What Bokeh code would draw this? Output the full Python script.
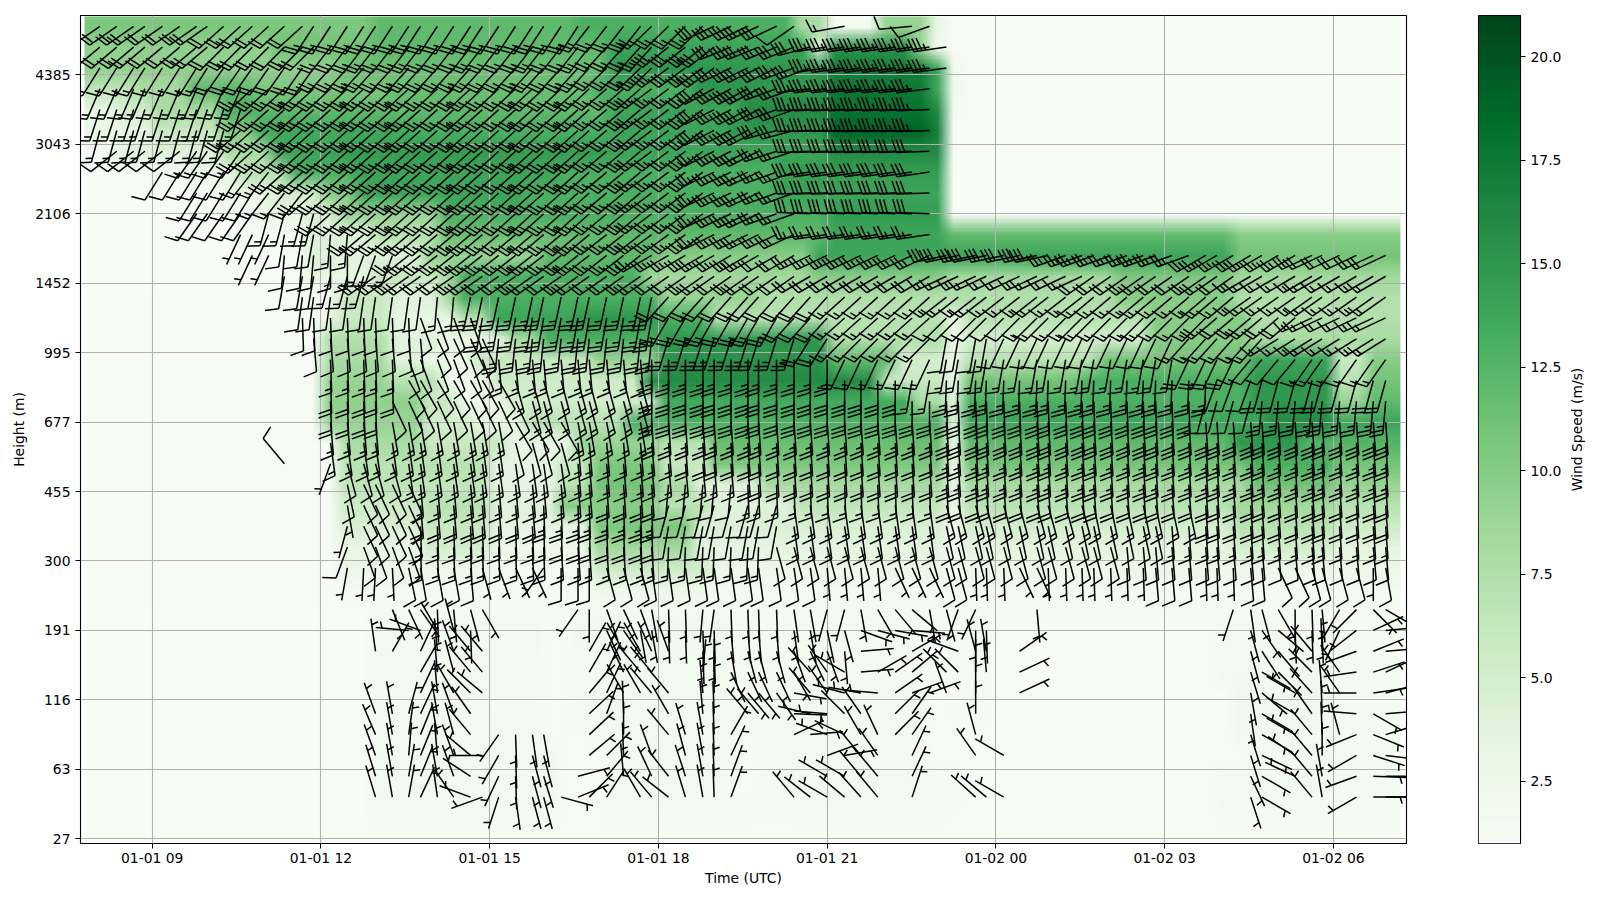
import base64
import struct
import zlib

import numpy as np
from bokeh.embed import file_html
from bokeh.layouts import row
from bokeh.models import FixedTicker, LinearColorMapper, Range1d
from bokeh.palettes import Greens256
from bokeh.plotting import figure
from bokeh.resources import INLINE

# ---------- axes ----------
TIME_TICKS = [9, 12, 15, 18, 21, 24, 27, 30]
TIME_LABELS = ["01-01 09", "01-01 12", "01-01 15", "01-01 18", "01-01 21", "01-02 00", "01-02 03", "01-02 06"]
LEVEL_TICKS = [0, 10, 20, 30, 40, 50, 60, 70, 80, 90, 100, 110]
HEIGHT_LABELS = ["27", "63", "116", "191", "300", "455", "677", "995", "1452", "2106", "3043", "4385"]
CBAR_TICKS = [2.5, 5.0, 7.5, 10.0, 12.5, 15.0, 17.5, 20.0]
CBAR_LABELS = ["2.5", "5.0", "7.5", "10.0", "12.5", "15.0", "17.5", "20.0"]

# ---------- barb times (hours after 01-01 00 UTC), one per barb column ----------
BARB_TIME = [8.07, 8.37, 8.67, 8.87, 9.18, 9.49, 9.79, 9.98, 10.27, 10.57, 10.78, 11.07, 11.35, 11.67, 11.87, 12.17,
             12.47, 12.76, 12.97, 13.27, 13.56, 13.77, 14.07, 14.36, 14.66, 14.87, 15.16, 15.46, 15.76, 15.96, 16.27,
             16.57, 16.77, 17.08, 17.38, 17.68, 17.88, 18.18, 18.48, 18.79, 18.99, 19.29, 19.59, 19.78, 20.1, 20.41,
             20.7, 21.0, 21.31, 21.6, 21.9, 22.21, 22.51, 22.82, 23.12, 23.33, 23.64, 23.83, 24.14, 24.42, 24.73, 24.93,
             25.24, 25.53, 25.74, 26.04, 26.33, 26.62, 26.84, 27.13, 27.43, 27.73, 27.93, 28.22, 28.53, 28.73, 29.02,
             29.32, 29.62, 29.8, 30.11, 30.41, 30.71, 30.93]

# ---------- barbs of the upper levels: (number of columns, direction deg, knots) ----------
B117 = [(8,235,20),(6,228,20),(18,213,25),(4,218,25),(4,226,25),(5,245,30),(1,235,10),(2,0,0),(1,260,15),(3,0,0),(1,265,10),(1,250,10)]
B114 = [(8,230,20),(7,225,20),(18,218,25),(4,222,25),(4,232,30),(5,248,30),(1,255,30),(8,262,35)]
B111 = [(8,212,15),(7,215,20),(18,222,25),(4,226,25),(4,234,30),(4,244,30),(2,250,30),(8,262,35)]
B108 = [(10,203,15),(23,227,25),(3,229,25),(4,233,25),(4,242,30),(2,250,30),(8,263,35)]
B105 = [(10,198,15),(23,228,25),(3,230,25),(4,233,25),(4,243,30),(2,250,30),(8,268,35)]
B102 = [(9,195,15),(24,228,25),(3,230,25),(4,233,25),(4,243,30),(2,255,30),(8,268,35)]
B099 = [(1,0,0),(5,232,10),(4,215,15),(23,228,25),(3,230,25),(4,233,25),(4,243,25),(2,252,25),(8,268,30)]
B096 = [(4,0,0),(6,212,10),(2,218,15),(21,228,25),(3,230,25),(4,233,25),(4,245,25),(2,250,25),(8,262,30)]
B093 = [(6,0,0),(5,212,10),(3,218,15),(19,228,25),(3,230,25),(4,233,25),(4,245,25),(2,250,25),(8,268,30)]
B090 = [(6,0,0),(5,215,10),(4,195,15),(18,228,25),(3,230,25),(4,233,25),(4,245,25),(2,250,25),(8,272,30)]
B087 = [(9,0,0),(3,205,5),(3,190,10),(2,185,15),(16,230,25),(3,232,25),(4,234,25),(4,244,25),(2,245,25),(8,262,25)]
B084 = [(10,0,0),(2,205,5),(3,185,10),(2,180,15),(3,200,15),(16,232,25),(8,240,25),(2,240,20),(8,245,25),
        (8,258,30),(9,250,25),(7,240,25),(6,245,20)]
B081 = [(12,0,0),(3,190,10),(3,195,15),(18,235,20),(8,235,20),(2,235,20),(8,240,20),(10,245,15),(10,235,20),(10,240,15)]
B078 = [(13,0,0),(9,188,10),(2,185,15),(13,192,25),(11,222,20),(6,228,15),(10,232,15),(10,230,15),(10,235,15)]
B075 = [(13,0,0),(8,178,10),(4,160,10),(12,190,25),(8,210,25),(3,222,20),(6,228,15),(6,225,10),(6,225,15),(6,225,15),(6,230,20),(6,245,15)]
B072 = [(14,0,0),(8,175,10),(4,155,10),(11,186,25),(9,197,25),(2,212,20),(6,225,15),(4,190,10),(12,205,10),(6,222,15),(8,238,15)]
B069 = [(15,0,0),(5,178,15),(6,160,10),(10,175,15),(12,180,25),(6,205,15),(16,190,15),(4,205,20),(4,220,10),(6,215,15)]
B066 = [(15,0,0),(5,178,20),(7,150,10),(9,165,15),(16,180,30),(2,190,15),(18,182,25),(3,200,10),(9,195,20)]
B063 = [(15,0,0),(4,178,20),(9,155,10),(8,165,15),(18,180,30),(17,178,30),(4,195,10),(9,185,25)]
B060 = [(15,0,0),(4,175,15),(8,170,15),(4,150,10),(5,170,15),(18,176,25),(30,176,30)]
B057 = [(15,0,0),(12,172,15),(4,165,10),(7,175,15),(16,176,20),(30,176,25)]
B054 = [(12,0,0),(1,320,10),(2,0,0),(1,200,5),(4,165,10),(11,172,15),(11,175,15),(12,176,20),(30,176,25)]
B051 = [(16,0,0),(1,168,10),(4,155,10),(12,175,15),(4,176,20),(5,185,10),(12,178,15),(30,176,20)]
B048 = [(16,0,0),(1,170,5),(4,155,10),(8,175,20),(8,178,25),(8,195,10),(9,172,15),(10,165,15),(7,168,15),(13,176,20)]
B045 = [(16,0,0),(1,195,5),(4,155,10),(9,178,15),(7,178,20),(8,190,10),(9,172,15),(15,168,10),(15,176,15)]
B042 = [(16,0,0),(1,200,10),(4,160,10),(9,178,15),(7,176,15),(7,182,15),(10,165,10),(12,165,10),(18,175,10)]
B039 = [(16,0,0),(1,190,5),(2,183,5),(1,177,5),(1,168,10),(3,170,10),(1,175,10),(1,165,5),(1,160,5),(2,155,5),(1,215,5),
        (3,180,10),(3,165,10),(11,172,10),(4,175,5),(3,155,5),(2,165,10),(3,178,5),(2,155,5),(7,178,5),(3,175,10),
        (3,178,5),(2,175,10),(2,155,10),(2,165,10),(2,165,10),(1,180,5),(1,170,10)]

# ---------- barbs of the lowest levels: (column number, direction deg), all about 5 kt ----------
L033 = [(20,158),(21,155),(22,145),(23,178),(24,175),(25,165),(26,150),(32,215),(33,180),(34,160),(35,155),(36,160),(37,170),
        (38,178),(39,178),(40,185),(41,188),(42,178),(43,178),(44,178),(45,178),(46,172),(47,170),(48,195),(49,195),(50,170),
        (51,150),(52,140),(53,130),(54,170),(55,165),(56,200),(57,205),(61,175),(74,198),(75,172),(76,165),(77,150),(78,180),
        (79,178),(80,175),(81,210),(82,225),(83,135),(84,120)]
L030 = [(21,275),(22,290),(23,330),(24,345),(25,178),(34,155),(35,145),(36,170),(37,170),(38,178),(39,178),(40,178),(41,178),
        (42,175),(43,175),(44,175),(45,175),(46,172),(47,170),(48,168),(49,165),(50,110),(51,105),(52,100),(53,95),(57,180),
        (58,178),(75,165),(76,145),(77,130),(78,178),(79,178),(80,178),(81,205),(82,232),(83,65),(84,85)]
L027 = [(19,352),(20,30),(22,25),(23,355),(24,340),(25,320),(26,320),(33,30),(34,25),(35,330),(36,330),(37,335),(38,340),
        (40,178),(41,178),(42,170),(43,165),(44,165),(45,165),(46,160),(47,155),(48,160),(49,175),(50,85),(53,60),(56,290),
        (57,345),(58,350),(60,55),(75,165),(76,147),(77,140),(79,320),(80,358),(82,250),(83,68),(84,85)]
L024 = [(22,30),(23,355),(24,345),(25,320),(26,320),(33,30),(34,25),(35,335),(36,320),(37,320),(40,5),(41,0),(42,155),(43,155),
        (44,155),(45,155),(46,150),(47,318),(48,325),(49,300),(50,85),(51,60),(52,55),(53,50),(55,315),(56,315),(57,0),(58,355),
        (60,65),(75,163),(76,120),(77,135),(79,315),(81,325),(82,262),(83,72),(84,65)]
L021 = [(22,25),(23,355),(24,330),(25,315),(26,310),(33,40),(34,25),(35,330),(36,330),(37,320),(38,320),(40,355),(41,0),(43,140),
        (44,140),(45,145),(46,100),(47,320),(48,325),(49,285),(50,280),(51,275),(52,55),(53,70),(54,70),(55,340),(57,0),(60,65),
        (75,170),(76,130),(78,300),(79,318),(80,355),(81,325),(82,270),(83,82),(84,75)]
L018 = [(19,340),(20,350),(21,15),(22,25),(23,350),(24,340),(25,325),(33,47),(34,20),(35,358),(38,330),(40,355),(41,358),(43,320),
        (44,320),(46,92),(47,283),(48,275),(49,315),(50,325),(52,45),(53,35),(57,0),(75,172),(76,120),(78,300),(79,325),(80,358),
        (82,275),(83,120),(84,85)]
L015 = [(19,337),(20,350),(21,8),(22,22),(23,350),(24,345),(25,320),(27,215),(28,178),(29,172),(30,170),(33,47),(35,0),(38,320),
        (39,343),(40,350),(41,358),(42,30),(46,65),(47,85),(48,290),(49,295),(50,330),(51,335),(52,45),(53,35),(57,345),(75,163),
        (76,120),(78,300),(79,320),(80,358),(81,345),(82,248),(83,112),(84,73)]
L012 = [(19,340),(20,350),(21,5),(22,22),(23,355),(24,340),(25,310),(26,270),(27,210),(28,178),(29,165),(30,165),(33,50),(34,45),
        (35,358),(37,340),(39,345),(40,350),(41,358),(42,25),(48,70),(49,80),(50,320),(51,325),(53,25),(57,325),(59,300),(75,163),
        (76,115),(78,305),(79,320),(80,0),(82,240),(83,108),(84,97)]
L009 = [(19,343),(20,350),(21,10),(22,22),(23,350),(24,340),(25,303),(27,205),(28,178),(29,165),(30,163),(32,75),(34,40),(35,355),
        (37,335),(38,322),(39,342),(40,350),(41,358),(42,20),(48,300),(49,300),(50,320),(51,320),(53,25),(75,155),(76,120),(78,295),
        (79,320),(80,350),(82,250),(83,92),(84,90)]
L006 = [(19,343),(20,350),(21,10),(22,25),(23,352),(24,325),(25,290),(26,250),(27,198),(28,172),(29,165),(30,165),(31,105),(32,68),
        (33,45),(34,33),(36,330),(37,320),(38,308),(39,343),(40,350),(41,358),(42,20),(46,320),(47,308),(48,300),(49,310),(50,318),
        (51,320),(53,18),(57,312),(58,310),(59,300),(75,162),(76,120),(79,320),(80,350),(82,240),(83,90),(84,90)]

UPPER_BARBS = {117: B117, 114: B114, 111: B111, 108: B108, 105: B105, 102: B102, 99: B099, 96: B096, 93: B093, 90: B090,
               87: B087, 84: B084, 81: B081, 78: B078, 75: B075, 72: B072, 69: B069, 66: B066, 63: B063, 60: B060,
               57: B057, 54: B054, 51: B051, 48: B048, 45: B045, 42: B042, 39: B039}
LOW_BARBS = {33: L033, 30: L030, 27: L027, 24: L024, 21: L021, 18: L018, 15: L015, 12: L012, 9: L009, 6: L006}

# ---------- wind speed (m/s), 78 columns per level, as (number of columns, value) ----------
H117 = [(17,10.5),(12,12),(13,13),(2,8),(3,1.5),(3,9),(1,3)]
H114 = [(11,9.5),(6,11),(14,12),(12,14),(1,4),(5,15.5),(1,9),(1,2)]
H111 = [(15,9.5),(16,11.5),(13,15),(6,17),(1,14),(1,2)]
H108 = [(3,6.5),(3,8),(4,12),(8,10.5),(12,11.5),(6,13),(8,15),(6,17.5),(1,14),(1,2)]
H105 = [(2,3),(2,5),(4,8),(2,13),(10,12),(11,12),(8,14),(5,16),(6,18),(1,16),(1,1.5)]
H102 = [(4,3),(4,6),(2,10),(10,13.5),(11,13),(7,14),(6,15),(6,19),(1,17)]
H099 = [(2,1.5),(6,4),(3,8),(4,14),(16,14.5),(13,14),(7,16)]
H096 = [(6,1.2),(3,3),(3,7),(4,13),(12,14),(13,13),(10,14.5)]
H093 = [(8,1),(3,3),(3,5),(2,10),(10,14),(15,13),(10,14)]
H090 = [(10,1),(3,3),(2,4.5),(6,9),(23,13),(7,14.5)]
H087 = [(12,1),(1,2),(4,4),(4,7),(8,11.5),(15,12),(7,14),(17,12),(10,10)]
H084 = [(13,1),(7,4),(7,9),(7,12),(9,10),(8,14),(17,14),(10,11)]
H081 = [(13,1),(4,3),(4,6),(1,8),(11,13),(10,8.5),(8,10),(10,8.5),(7,10.5),(10,8.5)]
H078 = [(14,1),(1,2),(3,6),(3,4),(1,8),(12,13),(6,9),(11,7.5),(10,7.5),(7,10),(10,7.5)]
H075 = [(14,1.2),(1,3),(3,6),(4,3),(2,7),(5,14),(5,15),(3,13),(14,7),(1,3),(11,7),(6,10),(9,7.5)]
H072 = [(14,1.2),(4,7.5),(3,4),(4,3),(2,8),(7,13),(10,15),(7,7.5),(1,3),(11,5),(6,10),(9,8)]
H069 = [(14,1.2),(4,8),(2,4),(3,2.5),(7,6),(4,9),(10,15.5),(4,12),(3,5),(1,3),(8,7),(9,11),(5,14),(2,6),(2,10)]
H066 = [(14,1.2),(4,9),(3,7),(3,2),(9,5.5),(14,16),(4,6),(1,3),(7,11),(10,13),(5,15),(2,7),(2,11)]
H063 = [(14,1.2),(6,9.5),(2,6),(3,2.5),(9,5),(15,13.5),(2,8),(1,4),(17,13),(5,15),(2,9),(2,12)]
H060 = [(14,1.2),(6,9),(3,5),(3,3),(6,7),(19,13),(1,4),(18,14),(4,16),(4,14)]
H057 = [(15,1.2),(5,8),(5,6),(4,3),(5,9),(3,7),(14,11.5),(1,3),(16,12),(4,15),(6,12.5)]
H054 = [(15,1.2),(9,7),(4,3.5),(2,6),(4,10.5),(3,6),(14,10.5),(1,3),(17,11),(5,13),(4,11)]
H051 = [(15,1.2),(9,6.5),(4,3.5),(2,7),(4,11),(2,8),(4,4),(11,8),(1,3),(17,8),(5,11),(4,9)]
H048 = [(15,1.2),(5,5.5),(4,7),(4,4),(6,10),(3,7),(5,4),(9,6.5),(1,3),(16,7),(6,8.5),(4,7)]
H045 = [(15,1.2),(5,4.5),(4,6),(6,3.5),(6,10.5),(15,4.5),(1,2),(16,5),(6,7),(4,5.5)]
H042 = [(15,1.2),(5,3),(4,5),(6,2.5),(6,8.5),(15,3.5),(1,1.5),(16,3.5),(6,5),(4,3.5)]
H039 = [(15,1.2),(9,2.5),(6,1.8),(7,5.5),(14,2.5),(1,1.5),(26,2.5)]
H036 = [(15,1.1),(9,1.5),(6,1.3),(7,2.5),(14,1.6),(27,1.6)]
H033 = [(17,1),(34,1.4),(27,1.3)]
H030 = [(17,1),(10,1.8),(2,1.1),(9,2),(12,1.6),(1,1),(3,1.4),(13,1),(8,1.6),(3,1.2)]
H027 = [(17,1),(10,1.7),(2,1.1),(9,1.9),(12,1.6),(1,1),(3,1.3),(13,1),(8,1.7),(3,1.3)]
H024 = [(17,1),(10,1.7),(2,1.1),(9,1.8),(12,1.5),(1,1),(3,1.3),(13,1),(7,1.8),(4,1.5)]
H021 = [(17,1),(10,1.6),(2,1.1),(9,1.8),(3,1.3),(9,1.7),(1,1),(3,1.3),(14,1),(6,2),(4,1.5)]
H018 = [(17,1),(10,1.6),(2,1.1),(9,1.8),(3,1.3),(9,1.7),(1,1),(3,1.3),(14,1),(6,2),(4,1.5)]
H015 = [(17,1),(10,1.7),(3,1.1),(7,1.8),(3,1.2),(9,1.7),(1,1),(18,1),(6,1.9),(4,1.5)]
H012 = [(17,1),(11,1.8),(3,1.1),(7,1.8),(3,1.2),(9,1.7),(1,1),(18,1),(6,1.9),(4,1.5)]
H009 = [(17,1),(11,1.9),(3,1.2),(7,1.9),(2,1.1),(10,1.8),(2,1.5),(15,1),(6,1.8),(5,1.5)]
H006 = [(17,1),(11,1.9),(3,1.2),(7,1.9),(2,1.1),(10,1.8),(2,1.5),(15,1),(6,1.8),(5,1.5)]
H003 = [(17,1),(11,1.6),(3,1.1),(8,1.5),(3,1.1),(9,1.4),(1,1),(15,1),(6,1.3),(5,1.3)]
H000 = [(78,1)]
SPEED_ROWS = [H000, H003, H006, H009, H012, H015, H018, H021, H024, H027, H030, H033, H036, H039, H042, H045, H048, H051,
              H054, H057, H060, H063, H066, H069, H072, H075, H078, H081, H084, H087, H090, H093, H096, H099, H102, H105,
              H108, H111, H114, H117]

# ---------- frame and scales ----------
FRAME_W, FRAME_H = 1326, 828
X0, X1 = 7.725, 31.30
Y0, Y1 = -0.68, 118.55
PX_PER_HOUR = FRAME_W / (X1 - X0)
PX_PER_LEVEL = FRAME_H / (Y1 - Y0)
HEAT_X, HEAT_W = 7.796, 23.396
HEAT_Y, HEAT_H = -1.5, 120.0
STAFF = 33.0
FONT = "DejaVu Sans"
PX = "13.9px"
V_LOW, V_HIGH = 1.0, 21.0

palette = list(reversed(Greens256))
mapper = LinearColorMapper(palette=palette, low=V_LOW, high=V_HIGH)


def expand(runs):
    out = []
    for item in runs:
        out.extend([item[1:] if len(item) > 2 else item[1]] * item[0])
    return out


speed = np.ones((len(SPEED_ROWS), 78))
for i, runs in enumerate(SPEED_ROWS):
    vals = expand(runs)[:78]
    speed[i, :len(vals)] = vals

# the table as a small PNG, one pixel per value; the browser draws it scaled
rgb_table = np.array([[int(c[i:i + 2], 16) for i in (1, 3, 5)] for c in palette], dtype=np.uint8)
index = np.clip(((speed - V_LOW) / (V_HIGH - V_LOW) * 255).astype(int), 0, 255)
pixels = rgb_table[index[::-1]]


def chunk(tag, data):
    return struct.pack(">I", len(data)) + tag + data + struct.pack(">I", zlib.crc32(tag + data) & 0xffffffff)


raw = b"".join(b"\x00" + line.tobytes() for line in pixels)
png = (b"\x89PNG\r\n\x1a\n" + chunk(b"IHDR", struct.pack(">IIBBBBB", pixels.shape[1], pixels.shape[0], 8, 2, 0, 0, 0))
       + chunk(b"IDAT", zlib.compress(raw)) + chunk(b"IEND", b""))
speed_uri = "data:image/png;base64," + base64.b64encode(png).decode()

bx, by = [], []


def add_barb(t, lev, deg, kn):
    a = np.radians(deg)
    hx, hy = np.sin(a), np.cos(a)
    rx, ry = hy, -hx
    sx = lambda px: t + px / PX_PER_HOUR
    sy = lambda px: lev + px / PX_PER_LEVEL
    bx.append([sx(0), sx(hx * STAFF)])
    by.append([sy(0), sy(hy * STAFF)])
    kn = int(5 * round(kn / 5.0))
    full, half = kn // 10, (kn % 10) // 5
    h, w, sp = 0.4 * STAFF, 0.25 * STAFF, 0.125 * STAFF
    off = STAFF
    for _ in range(full):
        bx.append([sx(hx * off), sx(hx * off + rx * h + hx * w / 2)])
        by.append([sy(hy * off), sy(hy * off + ry * h + hy * w / 2)])
        off -= sp
    if half:
        if off == STAFF:
            off -= 1.5 * sp
        bx.append([sx(hx * off), sx(hx * off + rx * h / 2 + hx * w / 4)])
        by.append([sy(hy * off), sy(hy * off + ry * h / 2 + hy * w / 4)])


for lev, runs in UPPER_BARBS.items():
    for t, (deg, kn) in zip(BARB_TIME, expand(runs)):
        if kn > 0:
            add_barb(t, lev, deg, kn)
for lev, pairs in LOW_BARBS.items():
    for col, deg in pairs:
        add_barb(BARB_TIME[col - 1], lev, deg, 5)

# ---------- main figure ----------
p = figure(width=1470, height=892, output_backend="svg", toolbar_location=None,
           x_range=Range1d(X0, X1), y_range=Range1d(Y0, Y1),
           frame_width=FRAME_W, frame_height=FRAME_H,
           min_border_left=80, min_border_right=64, min_border_top=15, min_border_bottom=49,
           background_fill_color="white", x_axis_label="Time (UTC)", y_axis_label="Height (m)")
p.image_url(url=[speed_uri], x=HEAT_X, y=HEAT_Y + HEAT_H, w=HEAT_W, h=HEAT_H, anchor="top_left", level="image")
p.multi_line(bx, by, line_color="black", line_width=1.5, line_cap="butt")

for ax in (p.xaxis[0], p.yaxis[0]):
    ax.major_tick_in = 0
    ax.major_tick_out = 5
    ax.minor_tick_line_color = None
    ax.major_label_text_font = FONT
    ax.major_label_text_font_size = PX
    ax.major_label_text_color = "black"
    ax.axis_label_text_font = FONT
    ax.axis_label_text_font_size = PX
    ax.axis_label_text_font_style = "normal"
    ax.axis_label_text_color = "black"
    ax.axis_line_color = "black"
    ax.major_tick_line_color = "black"
p.xaxis[0].ticker = FixedTicker(ticks=TIME_TICKS)
p.xaxis[0].major_label_overrides = dict(zip(TIME_TICKS, TIME_LABELS))
p.xaxis[0].major_label_standoff = 1
p.xaxis[0].axis_label_standoff = 1
p.yaxis[0].ticker = FixedTicker(ticks=LEVEL_TICKS)
p.yaxis[0].major_label_overrides = dict(zip(LEVEL_TICKS, HEIGHT_LABELS))
p.grid.grid_line_color = "#b0b0b0"
p.grid.grid_line_width = 1.1
p.grid.level = "underlay"
p.xgrid[0].ticker = FixedTicker(ticks=TIME_TICKS)
p.ygrid[0].ticker = FixedTicker(ticks=LEVEL_TICKS)
p.outline_line_color = "black"
p.outline_line_width = 1.1

# ---------- colour bar ----------
cb = figure(width=95, height=892, output_backend="svg", toolbar_location=None,
            x_range=Range1d(0, 1), y_range=Range1d(V_LOW, V_HIGH), y_axis_location="right",
            frame_width=42, frame_height=FRAME_H,
            min_border_left=8, min_border_right=45, min_border_top=15, min_border_bottom=49)
cb.image(image=[np.linspace(V_LOW, V_HIGH, 256).reshape(256, 1)], x=0, y=V_LOW, dw=1, dh=V_HIGH - V_LOW,
         color_mapper=mapper, level="image")
cb.xaxis.visible = False
cb.grid.visible = False
cb.outline_line_color = "black"
cb.outline_line_width = 1.1
ax = cb.yaxis[0]
ax.ticker = FixedTicker(ticks=CBAR_TICKS)
ax.major_label_overrides = dict(zip(CBAR_TICKS, CBAR_LABELS))
ax.major_tick_in = 0
ax.major_tick_out = 5
ax.minor_tick_line_color = None
ax.major_label_text_font = FONT
ax.major_label_text_font_size = PX
ax.major_label_text_color = "black"
ax.axis_line_color = "black"

# the colour bar's title reads bottom to top: it is the left axis label of a narrow blank figure
title_fig = figure(width=30, height=892, output_backend="svg", toolbar_location=None,
                   x_range=Range1d(0, 1), y_range=Range1d(V_LOW, V_HIGH),
                   frame_width=4, frame_height=FRAME_H,
                   min_border_left=1, min_border_right=0, min_border_top=15, min_border_bottom=49,
                   y_axis_label="Wind Speed (m/s)")
title_fig.xaxis.visible = False
title_fig.grid.visible = False
title_fig.outline_line_color = None
tax = title_fig.yaxis[0]
tax.ticker = FixedTicker(ticks=[])
tax.axis_line_color = None
tax.major_tick_line_color = None
tax.minor_tick_line_color = None
tax.axis_label_standoff = 0
tax.axis_label_text_font = FONT
tax.axis_label_text_font_size = PX
tax.axis_label_text_font_style = "normal"
tax.axis_label_text_color = "black"

layout = row(p, cb, title_fig, spacing=0)
open("out.html", "w").write(file_html(layout, INLINE))
